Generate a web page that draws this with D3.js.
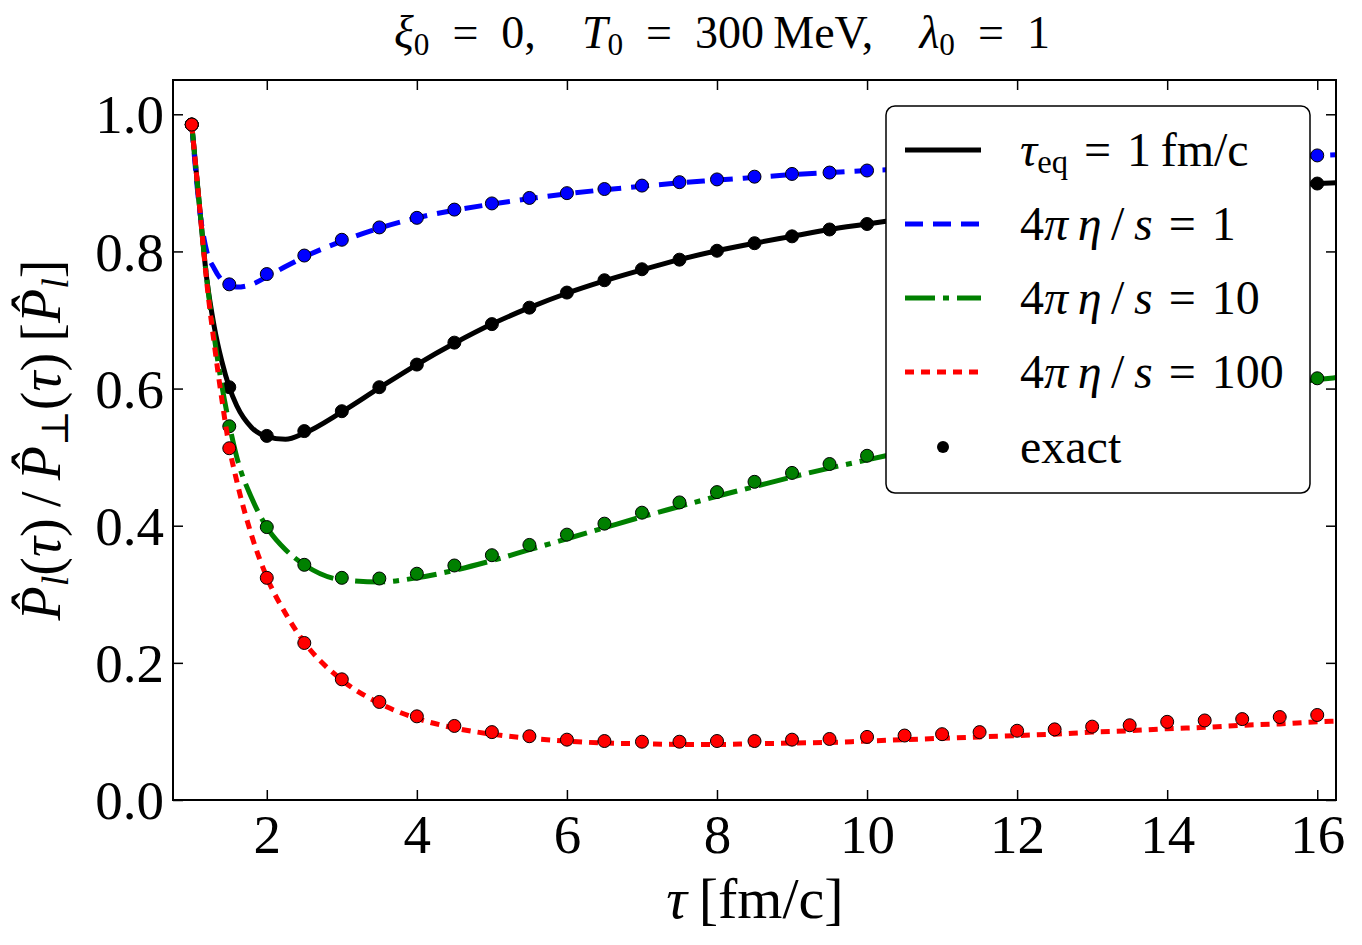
<!DOCTYPE html>
<html>
<head>
<meta charset="utf-8">
<script src="https://cdn.jsdelivr.net/npm/d3@7"></script>
<style>
  body { margin: 0; background: #fff; }
  text { font-family: "Liberation Serif", "DejaVu Serif", serif; fill: #000; }
</style>
</head>
<body>
<div id="viz"></div>
<script>
//svg width&height
var width = 1362;
var height = 945;
var margin = { t: 80, l: 173, b: 145, r: 26 };

// tau grid for the model curves
var tauLine = [1.0, 1.1, 1.2, 1.3, 1.4, 1.5, 1.6, 1.8, 2.0, 2.25, 2.5, 3, 3.5, 4, 4.5, 5, 5.5, 6, 6.5, 7, 7.5, 8,
  8.5, 9, 9.5, 10, 10.5, 11, 11.5, 12, 12.5, 13, 13.5, 14, 14.5, 15, 15.5, 16, 16.25];

var lineTauEq = [0.985, 0.87, 0.76, 0.69, 0.64, 0.602, 0.575, 0.543, 0.530, 0.526, 0.535, 0.566, 0.601, 0.635, 0.666,
  0.694, 0.718, 0.739, 0.757, 0.773, 0.788, 0.801, 0.812, 0.822, 0.832, 0.840, 0.848, 0.855, 0.861, 0.867, 0.872,
  0.877, 0.882, 0.886, 0.890, 0.893, 0.896, 0.899, 0.900];
var lineEta1 = [0.985, 0.865, 0.80, 0.775, 0.758, 0.750, 0.748, 0.752, 0.763, 0.778, 0.792, 0.815, 0.834, 0.849, 0.860,
  0.869, 0.877, 0.884, 0.890, 0.895, 0.900, 0.904, 0.908, 0.912, 0.915, 0.918, 0.920, 0.923, 0.925, 0.927, 0.929,
  0.931, 0.933, 0.935, 0.936, 0.937, 0.939, 0.940, 0.941];
var lineEta10 = [0.985, 0.87, 0.76, 0.675, 0.605, 0.548, 0.50, 0.44, 0.398, 0.365, 0.343, 0.321, 0.318, 0.324, 0.335,
  0.349, 0.365, 0.381, 0.397, 0.413, 0.428, 0.443, 0.457, 0.471, 0.484, 0.496, 0.508, 0.520, 0.531, 0.542, 0.552,
  0.562, 0.572, 0.581, 0.590, 0.598, 0.606, 0.613, 0.616];
var lineEta100 = [0.985, 0.87, 0.755, 0.665, 0.585, 0.515, 0.465, 0.385, 0.325, 0.272, 0.230, 0.175, 0.141, 0.119, 0.105,
  0.096, 0.090, 0.086, 0.083, 0.082, 0.081, 0.081, 0.082, 0.083, 0.084, 0.086, 0.088, 0.090, 0.092, 0.094, 0.096,
  0.099, 0.101, 0.104, 0.106, 0.109, 0.111, 0.114, 0.115];

// exact solution points
var tauExact = [1, 1.5, 2, 2.5, 3, 3.5, 4, 4.5, 5, 5.5, 6, 6.5, 7, 7.5, 8, 8.5, 9, 9.5, 10, 10.5, 11, 11.5, 12, 12.5,
  13, 13.5, 14, 14.5, 15, 15.5, 16];
var exactTauEq = [0.985, 0.602, 0.531, 0.538, 0.567, 0.602, 0.635, 0.667, 0.694, 0.718, 0.740, 0.758, 0.774, 0.788,
  0.801, 0.812, 0.822, 0.832, 0.840, 0.848, 0.855, 0.861, 0.867, 0.872, 0.877, 0.882, 0.886, 0.890, 0.893, 0.896, 0.899];
var exactEta1 = [0.985, 0.752, 0.767, 0.794, 0.817, 0.835, 0.849, 0.861, 0.870, 0.878, 0.885, 0.891, 0.896, 0.901,
  0.905, 0.909, 0.913, 0.915, 0.918, 0.920, 0.923, 0.925, 0.927, 0.929, 0.931, 0.933, 0.935, 0.936, 0.937, 0.939, 0.940];
var exactEta10 = [0.985, 0.545, 0.398, 0.343, 0.324, 0.323, 0.330, 0.342, 0.357, 0.372, 0.387, 0.403, 0.419, 0.434,
  0.449, 0.464, 0.477, 0.490, 0.502, 0.515, 0.527, 0.538, 0.549, 0.559, 0.569, 0.578, 0.587, 0.595, 0.603, 0.609, 0.615];
var exactEta100 = [0.985, 0.513, 0.324, 0.229, 0.176, 0.143, 0.122, 0.108, 0.099, 0.093, 0.088, 0.086, 0.085, 0.085,
  0.086, 0.086, 0.088, 0.089, 0.092, 0.094, 0.096, 0.099, 0.101, 0.103, 0.107, 0.109, 0.114, 0.116, 0.118, 0.121, 0.124];

// tick labels
var xTicks = [2, 4, 6, 8, 10, 12, 14, 16];
var yTicks = [0.0, 0.2, 0.4, 0.6, 0.8, 1.0];

var series = [
  { line: lineTauEq, exact: exactTauEq, color: '#000000', dash: null },
  { line: lineEta1, exact: exactEta1, color: '#0000ff', dash: '18,10' },
  { line: lineEta10, exact: exactEta10, color: '#008000', dash: '30,8,6,8' },
  { line: lineEta100, exact: exactEta100, color: '#ff0000', dash: '9,7' }
];

//svg
var svg = d3.select('#viz').append('svg')
  .attr('width', width)
  .attr('height', height);

var x = d3.scaleLinear().domain([0.75, 16.25]).range([margin.l, width - margin.r]);
var y = d3.scaleLinear().domain([0, 1.05]).range([height - margin.b, margin.t]);

svg.append('clipPath').attr('id', 'clip')
  .append('rect')
  .attr('x', x.range()[0]).attr('y', y.range()[1])
  .attr('width', x.range()[1] - x.range()[0])
  .attr('height', y.range()[0] - y.range()[1]);

// rich text helper: parts = [{t, i, sub}]
function rich(sel, parts) {
  parts.forEach(function(p) {
    var ts = sel.append('tspan').text(p.t);
    if (p.i) ts.style('font-style', 'italic');
    if (p.sub) ts.attr('baseline-shift', '-22%').style('font-size', '68%');
  });
  return sel;
}

// axes (ticks pointing inward, on all four sides)
var fmt = d3.format('.1f');
var gx = svg.append('g').attr('transform', `translate(0, ${y.range()[0]})`)
  .call(d3.axisBottom(x).tickValues(xTicks).tickSizeInner(-10).tickSizeOuter(0).tickPadding(11));
var gxTop = svg.append('g').attr('transform', `translate(0, ${y.range()[1]})`)
  .call(d3.axisTop(x).tickValues(xTicks).tickSizeInner(-10).tickSizeOuter(0).tickFormat(''));
var gy = svg.append('g').attr('transform', `translate(${x.range()[0]}, 0)`)
  .call(d3.axisLeft(y).tickValues(yTicks).tickFormat(fmt).tickSizeInner(-10).tickSizeOuter(0).tickPadding(9));
var gyR = svg.append('g').attr('transform', `translate(${x.range()[1]}, 0)`)
  .call(d3.axisRight(y).tickValues(yTicks).tickSizeInner(-10).tickSizeOuter(0).tickFormat(''));

[gx, gxTop, gy, gyR].forEach(function(g) {
  g.select('.domain').remove();
  g.selectAll('.tick line').attr('stroke', '#000').attr('stroke-width', 1.5);
  g.selectAll('.tick text')
    .style('font-family', '"Liberation Serif", serif')
    .style('font-size', '55px')
    .attr('fill', '#000');
});
gx.selectAll('.tick text').attr('dy', '0.76em');
gy.selectAll('.tick text').attr('dy', '0.34em');

// curves
var plot = svg.append('g').attr('clip-path', 'url(#clip)');
var lineGen = d3.line()
  .x(function(d) { return x(d[0]); })
  .y(function(d) { return y(d[1]); })
  .curve(d3.curveMonotoneX);

series.forEach(function(s) {
  var p = plot.append('path')
    .datum(tauLine.map(function(t, i) { return [t, s.line[i]]; }))
    .attr('d', lineGen)
    .attr('fill', 'none')
    .attr('stroke', s.color)
    .attr('stroke-width', 5);
  if (s.dash) p.attr('stroke-dasharray', s.dash);

  plot.append('g').selectAll('circle')
    .data(tauExact.map(function(t, i) { return [t, s.exact[i]]; }))
    .enter().append('circle')
    .attr('cx', function(d) { return x(d[0]); })
    .attr('cy', function(d) { return y(d[1]); })
    .attr('r', 6.5)
    .attr('fill', s.color)
    .attr('stroke', '#000')
    .attr('stroke-width', 1);
});

// frame
svg.append('rect')
  .attr('x', x.range()[0]).attr('y', y.range()[1])
  .attr('width', x.range()[1] - x.range()[0])
  .attr('height', y.range()[0] - y.range()[1])
  .attr('fill', 'none').attr('stroke', '#000').attr('stroke-width', 2);

// legend
var leg = svg.append('g').attr('transform', 'translate(886, 106)');
leg.append('rect')
  .attr('width', 424).attr('height', 387).attr('rx', 9)
  .attr('fill', '#fff').attr('stroke', '#000').attr('stroke-width', 1.5);

var EQ = '\u2002=\u2002';
var LEQ = '\u2004=\u2004';
var legLabels = [
  [{ t: 'τ', i: true }, { t: 'eq', sub: true }, { t: LEQ + '1\u2009fm/c' }],
  [{ t: '4' }, { t: 'π\u2009η', i: true }, { t: '\u2009/\u2009' }, { t: 's', i: true }, { t: LEQ + '1' }],
  [{ t: '4' }, { t: 'π\u2009η', i: true }, { t: '\u2009/\u2009' }, { t: 's', i: true }, { t: LEQ + '10' }],
  [{ t: '4' }, { t: 'π\u2009η', i: true }, { t: '\u2009/\u2009' }, { t: 's', i: true }, { t: LEQ + '100' }],
  [{ t: 'exact' }]
];
var rowY = [44, 118, 192, 266, 341];
legLabels.forEach(function(lab, i) {
  var ry = rowY[i];
  if (i < 4) {
    var s = series[i];
    var l = leg.append('line')
      .attr('x1', 19).attr('x2', 95).attr('y1', ry).attr('y2', ry)
      .attr('stroke', s.color).attr('stroke-width', 5);
    if (s.dash) l.attr('stroke-dasharray', s.dash);
  } else {
    leg.append('circle').attr('cx', 57).attr('cy', ry).attr('r', 6).attr('fill', '#000');
  }
  rich(leg.append('text').attr('x', 134).attr('y', ry + 16).style('font-size', '48px'), lab);
});

// title
rich(svg.append('text')
  .attr('x', 722).attr('y', 48)
  .attr('text-anchor', 'middle')
  .style('font-size', '46px'),
  [{ t: 'ξ', i: true }, { t: '0', sub: true }, { t: EQ + '0,\u2003' },
   { t: 'T', i: true }, { t: '0', sub: true }, { t: EQ + '300\u2009MeV,\u2003' },
   { t: 'λ', i: true }, { t: '0', sub: true }, { t: EQ + '1' }]);

// x label
rich(svg.append('text')
  .attr('x', 755).attr('y', 918)
  .attr('text-anchor', 'middle')
  .style('font-size', '58px'),
  [{ t: 'τ', i: true }, { t: '\u2009[fm/c]' }]);

// y label
rich(svg.append('text')
  .attr('transform', 'translate(60, 440) rotate(-90)')
  .attr('text-anchor', 'middle')
  .style('font-size', '56px'),
  [{ t: 'P\u0302', i: true }, { t: 'l', i: true, sub: true }, { t: '(' }, { t: 'τ', i: true }, { t: ')\u2009/\u2009' },
   { t: 'P\u0302', i: true }, { t: '⊥', sub: true }, { t: '(' }, { t: 'τ', i: true }, { t: ')\u2009[' },
   { t: 'P\u0302', i: true }, { t: 'l', i: true, sub: true }, { t: ']' }]);
</script>
</body>
</html>
